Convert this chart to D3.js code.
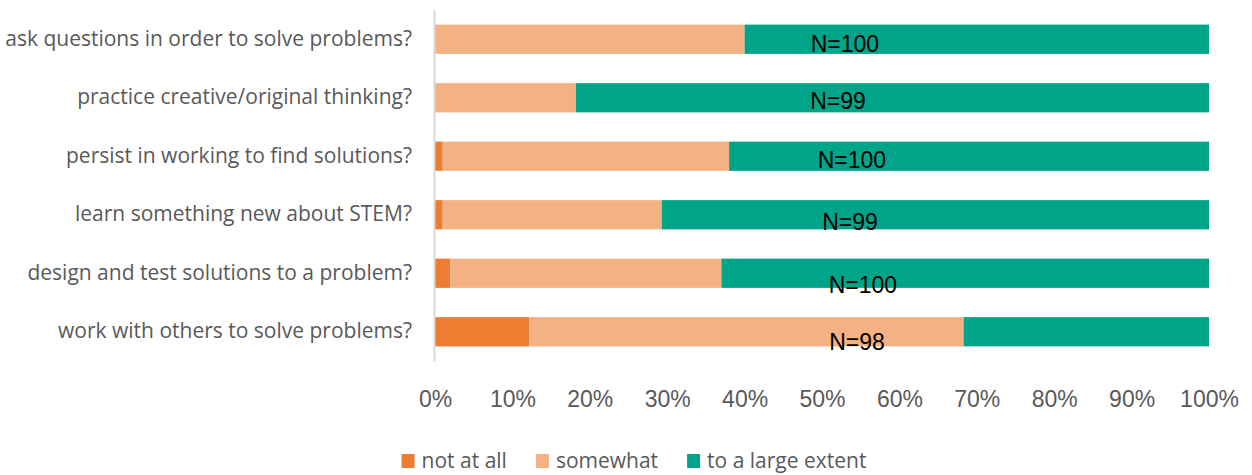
<!DOCTYPE html>
<html>
<head>
<meta charset="utf-8">
<script src="https://cdn.jsdelivr.net/npm/d3@7"></script>
<style>
  body { margin: 0; background: #fff; }
  svg { display: block; }
  .ylab text { font-family: "Open Sans", sans-serif; font-size: 21px; fill: #595959; }
  .xlab text { font-family: "Liberation Sans", Arial, sans-serif; font-size: 23px; fill: #595959; }
  .nlab { font-family: "Liberation Sans", Arial, sans-serif; font-size: 23px; fill: #000; }
  .legend text { font-family: "Open Sans", sans-serif; font-size: 21px; fill: #595959; }
</style>
</head>
<body>
<svg width="1252" height="475"></svg>
<script>
  // questions, top to bottom
  const categories = [
    'ask questions in order to solve problems?',
    'practice creative/original thinking?',
    'persist in working to find solutions?',
    'learn something new about STEM?',
    'design and test solutions to a problem?',
    'work with others to solve problems?'
  ];
  const seriesNames = ['not at all', 'somewhat', 'to a large extent'];
  // percent of respondents
  const notAtAll    = [0, 0, 1, 1.0, 2, 12.2];
  const somewhat    = [40, 18.2, 37, 28.3, 35, 56.1];
  const largeExtent = [60, 81.8, 62, 70.7, 63, 31.7];
  const nValues = [100, 99, 100, 99, 100, 98];
  const tickValues = [0, 10, 20, 30, 40, 50, 60, 70, 80, 90, 100];

  const colors = ['#ED7D31', '#F4B183', '#00A589'];

  const svg = d3.select('svg');

  const data = categories.map((c, i) => ({
    cat: c,
    'not at all': notAtAll[i],
    'somewhat': somewhat[i],
    'to a large extent': largeExtent[i],
    n: nValues[i]
  }));

  const stacked = d3.stack().keys(seriesNames)(data);

  const xScale = d3.scaleLinear()
    .domain([0, 100])
    .range([435, 1209]);

  const yScale = d3.scaleBand()
    .domain(categories)
    .range([10, 361])
    .paddingInner(0.5)
    .paddingOuter(0.25);

  const color = d3.scaleOrdinal().domain(seriesNames).range(colors);

  // bars
  svg.append('g').selectAll('g').data(stacked)
    .enter().append('g')
      .attr('fill', d => color(d.key))
    .selectAll('rect').data(d => d)
    .enter().append('rect')
      .attr('x', d => xScale(d[0]))
      .attr('y', d => yScale(d.data.cat))
      .attr('width', d => xScale(d[1]) - xScale(d[0]))
      .attr('height', yScale.bandwidth());

  // y axis
  const yAxisG = svg.append('g')
    .attr('class', 'ylab')
    .attr('transform', 'translate(434,0)')
    .call(d3.axisLeft(yScale).tickSize(0).tickPadding(22));
  yAxisG.select('.domain').attr('stroke', '#d9d9d9').attr('stroke-width', 2);

  // x axis
  const xAxisG = svg.append('g')
    .attr('class', 'xlab')
    .attr('transform', 'translate(0,361)')
    .call(d3.axisBottom(xScale).tickValues(tickValues).tickSize(0).tickPadding(30)
      .tickFormat(d => d + '%'));
  xAxisG.select('.domain').remove();

  // N labels (loosely placed text boxes in the original)
  const nLabelDx = [-8, -15, -1, -3, 10, 4];
  const nLabelDy = [4, 3, 3, 7, 11, 10];
  svg.append('g').selectAll('text').data(data)
    .enter().append('text')
      .attr('class', 'nlab')
      .attr('text-anchor', 'middle')
      .attr('x', (d, i) => xScale(54) + nLabelDx[i])
      .attr('y', (d, i) => yScale(d.cat) + yScale.bandwidth() / 2 + nLabelDy[i])
      .attr('dy', '0.36em')
      .text(d => 'N=' + d.n);

  // legend
  const legend = svg.append('g').attr('class', 'legend');
  const items = legend.selectAll('g').data(seriesNames)
    .enter().append('g');
  items.append('rect')
    .attr('width', 13).attr('height', 14)
    .attr('y', 454)
    .attr('fill', d => color(d));
  items.append('text')
    .attr('x', 20)
    .attr('y', 461)
    .attr('dy', '0.35em')
    .text(d => d);
  const widths = [];
  items.each(function() {
    const w = 20 + d3.select(this).select('text').node().getComputedTextLength();
    widths.push(w);
  });
  const gap = 29;
  const total = d3.sum(widths) + gap * (widths.length - 1);
  let start = 634 - total / 2;
  items.attr('transform', (d, i) => {
    const t = `translate(${start},0)`;
    start += widths[i] + gap;
    return t;
  });
</script>
</body>
</html>
